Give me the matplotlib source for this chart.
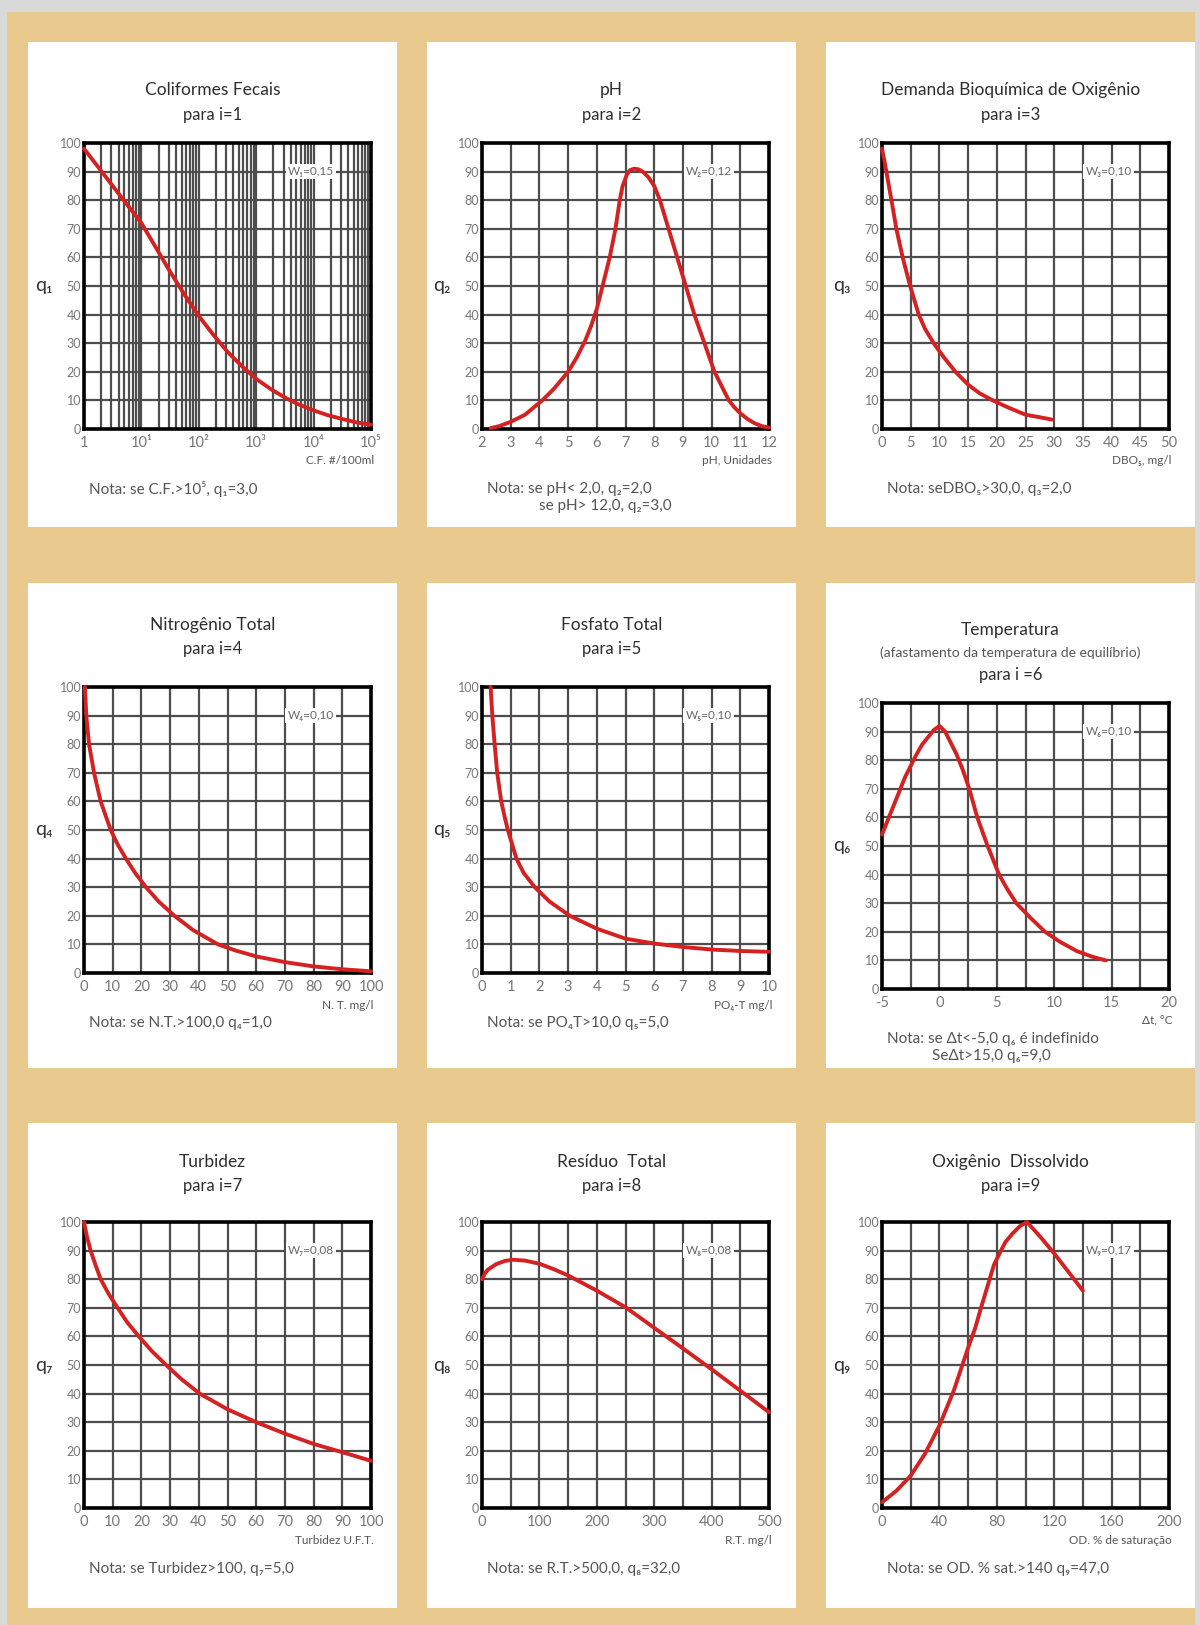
import matplotlib.pyplot as plt
from matplotlib.patches import Rectangle

plt.rcParams['font.family'] = ['Lato', 'DejaVu Sans']

W, H = 1200, 1625

# curves (x, q)
cf_x = [1, 1.78, 3.16, 5.62, 10, 17.8, 31.6, 56.2, 100, 178, 316, 562, 1000, 1780, 3160,
        5620, 1e4, 17800, 31600, 56200, 1e5]
cf_q = [98, 91.5, 85, 78.5, 72, 63.5, 55, 47, 39.5, 33, 27, 22, 17.5, 14, 11,
        8.5, 6.5, 4.8, 3.5, 2.3, 1.5]

ph_x = [2.3, 2.6, 3, 3.5, 4.1, 4.5, 5, 5.3, 5.6, 5.8, 6, 6.2, 6.45, 6.65, 6.8, 6.9, 7.05, 7.15,
        7.3, 7.45, 7.6, 7.8, 8, 8.2, 8.5, 8.8, 9.1, 9.4, 9.75, 10.1, 10.35, 10.6, 10.8, 11,
        11.25, 11.5, 11.75, 12]
ph_q = [0.3, 1, 2.5, 5, 10, 14, 20, 25, 31, 36, 42, 50, 60, 70, 80, 85, 89, 90.5,
        91, 90.8, 90, 88, 85, 80, 70, 60, 50, 40, 30, 20, 15, 10, 7.5, 5.5,
        3.5, 2, 1, 0.5]

dbo_x = [0, 0.4, 0.76, 1.2, 1.65, 2.5, 3.6, 4.9, 6.4, 7.5, 9, 10.8, 12.8, 15, 17, 19.3, 22,
         25, 27.5, 29.6]
dbo_q = [98, 94, 90, 85, 80, 70, 60, 50, 40, 35, 30, 25, 20, 15.5, 12.5, 10, 7.5,
         5, 4.1, 3.3]

nt_x = [0.3, 0.8, 1.75, 3.5, 5.8, 9.3, 11.7, 14.6, 17.8, 21.6, 26, 31.5, 38, 46.7, 53, 60,
        70, 80, 90, 100]
nt_q = [100, 90, 80, 70, 60, 50, 45, 40, 35, 30, 25, 20, 15, 10, 7.8, 5.8,
        3.8, 2.3, 1.3, 0.6]

po4_x = [0.3, 0.36, 0.44, 0.53, 0.67, 0.78, 0.9, 1.05, 1.2, 1.45, 1.84, 2.35, 3.06, 4, 5, 6,
         7, 8, 9, 10]
po4_q = [100, 90, 80, 70, 60, 55, 50, 45, 40, 35, 30, 25, 20, 15.5, 12, 10.3,
         9.1, 8.2, 7.7, 7.4]

temp_x = [-5, -4, -3, -2, -1.5, -1, -0.5, 0, 0.5, 1, 1.5, 2, 2.6, 3.3, 4.2, 5.2, 5.9, 6.7,
          7.9, 9.2, 10.5, 12, 13.3, 14.5]
temp_q = [54, 64, 74, 82, 85.5, 88, 90.5, 92, 90, 86, 82, 77, 70, 60, 50, 40, 35, 30,
          25, 20, 16.5, 13.2, 11.3, 10]

turb_x = [0, 1, 2.3, 4, 5.8, 8.5, 11.7, 15, 19.1, 23.5, 28.6, 34, 40.3, 50, 60, 70, 80, 90,
          100]
turb_q = [100, 95, 90, 85, 80, 75, 70, 65, 60, 55, 50, 45, 40, 34.5, 30, 26, 22.4, 19.5,
          16.5]

rt_x = [0, 5, 10, 25, 40, 54, 75, 100, 125, 150, 200, 250, 300, 350, 400, 450, 500]
rt_q = [80, 82, 83.3, 85.3, 86.4, 86.8, 86.5, 85.4, 83.5, 81.3, 76, 70.2, 63, 55.8, 48.5,
        41, 33.5]

od_x = [0, 10, 20, 30, 40, 50, 60, 65, 69, 74.4, 78, 82.4, 86, 91, 96, 101, 110, 120, 130, 140]
od_q = [2, 6, 11.3, 19, 28.8, 41, 56, 63, 70, 79, 85, 89.5, 93, 96, 98.5, 100, 95, 89, 82.5, 76]

titles = [
    ['Coliformes Fecais', 'para i=1'],
    ['pH', 'para i=2'],
    ['Demanda Bioquímica de Oxigênio', 'para i=3'],
    ['Nitrogênio Total', 'para i=4'],
    ['Fosfato Total', 'para i=5'],
    ['Temperatura', '(afastamento da temperatura de equilíbrio)', 'para i =6'],
    ['Turbidez', 'para i=7'],
    ['Resíduo  Total', 'para i=8'],
    ['Oxigênio  Dissolvido', 'para i=9'],
]
weights = ['W₁=0,15', 'W₂=0,12', 'W₃=0,10', 'W₄=0,10', 'W₅=0,10', 'W₆=0,10',
           'W₇=0,08', 'W₈=0,08', 'W₉=0,17']
q_labels = ['q₁', 'q₂', 'q₃', 'q₄', 'q₅', 'q₆', 'q₇', 'q₈', 'q₉']
unit_labels = ['C.F. #/100ml', 'pH, Unidades', 'DBO₅, mg/l', 'N. T. mg/l', 'PO₄-T mg/l',
               'Δt, °C', 'Turbidez U.F.T.', 'R.T. mg/l', 'OD. % de saturação']
notes = [
    ['Nota: se C.F.>10⁵, q₁=3,0'],
    ['Nota: se pH< 2,0, q₂=2,0', 'se pH> 12,0, q₂=3,0'],
    ['Nota: seDBO₅>30,0, q₃=2,0'],
    ['Nota: se N.T.>100,0 q₄=1,0'],
    ['Nota: se PO₄T>10,0 q₅=5,0'],
    ['Nota: se Δt<-5,0 q₆ é indefinido', 'SeΔt>15,0 q₆=9,0'],
    ['Nota: se Turbidez>100, q₇=5,0'],
    ['Nota: se R.T.>500,0, q₈=32,0'],
    ['Nota: se OD. % sat.>140 q₉=47,0'],
]
curves = [(cf_x, cf_q), (ph_x, ph_q), (dbo_x, dbo_q), (nt_x, nt_q), (po4_x, po4_q),
          (temp_x, temp_q), (turb_x, turb_q), (rt_x, rt_q), (od_x, od_q)]
xlims = [(1, 1e5), (2, 12), (0, 50), (0, 100), (0, 10), (-5, 20), (0, 100), (0, 500), (0, 200)]
grid_steps = [None, 1, 5, 10, 1, 2.5, 10, 50, 20]
label_steps = [None, 1, 5, 10, 1, 5, 10, 100, 40]

RED = '#d42121'
GRID = '#4d4d4d'


def fig_rect(x, y, w, h):
    return [x / W, 1 - (y + h) / H, w / W, h / H]


def ftext(x, y, s, **kw):
    fig.text(x / W, 1 - y / H, s, **kw)


fig = plt.figure(figsize=(12, 16.25), dpi=100, facecolor='#d9d9d9')
fig.patches.append(Rectangle((7 / W, 0), 1188 / W, 1613 / H, transform=fig.transFigure,
                             facecolor='#e9c98d', edgecolor='none', zorder=0))

col_x = [28, 427, 826]
row_y = [42, 583, 1123]
panel_w, panel_h = 369, 485
ax_left = [56, 55, 56]
ax_top = [101, 104, 99]
title_y = [[48, 73], [42, 66], [39, 63]]
note_dy = [60, 50, 61]

for i in range(9):
    r, c = divmod(i, 3)
    px, py = col_x[c], row_y[r]
    fig.patches.append(Rectangle((px / W, 1 - (py + panel_h) / H), panel_w / W, panel_h / H,
                                 transform=fig.transFigure, facecolor='white',
                                 edgecolor='none', zorder=1))
    top = py + ax_top[r] + (16 if i == 5 else 0)
    axl = px + ax_left[c]
    ax = fig.add_axes(fig_rect(axl, top, 287, 286))
    ax.set_zorder(2)

    # titles
    cx = px + panel_w / 2
    if i == 5:
        ftext(cx, py + 47, titles[i][0], ha='center', va='center', fontsize=12.5, color='#2e2e2e')
        ftext(cx, py + 70, titles[i][1], ha='center', va='center', fontsize=10, color='#555555')
        ftext(cx, py + 92, titles[i][2], ha='center', va='center', fontsize=12, color='#2e2e2e')
    else:
        ftext(cx, py + title_y[r][0], titles[i][0], ha='center', va='center', fontsize=12.5,
              color='#2e2e2e')
        ftext(cx, py + title_y[r][1], titles[i][1], ha='center', va='center', fontsize=12,
              color='#2e2e2e')

    x, q = curves[i]
    ax.plot(x, q, color=RED, lw=2.8, solid_capstyle='round', solid_joinstyle='round',
            zorder=5, clip_on=False)
    ax.set_xlim(*xlims[i])
    ax.set_ylim(0, 100)

    if i == 0:
        ax.set_xscale('log')
        ax.set_xticks([1, 10, 100, 1e3, 1e4, 1e5])
        ax.set_xticklabels(['1', '10¹', '10²', '10³', '10⁴', '10⁵'])
        ax.set_xticks([m * 10 ** d for d in range(5) for m in range(2, 10)], minor=True)
        ax.tick_params(axis='x', which='minor', labelbottom=False)
    else:
        lo, hi = xlims[i]
        gs, ls = grid_steps[i], label_steps[i]
        n = int(round((hi - lo) / gs))
        ax.set_xticks([lo + k * gs for k in range(n + 1)], minor=True)
        m = int(round((hi - lo) / ls))
        ticks = [lo + k * ls for k in range(m + 1)]
        ax.set_xticks(ticks)
        ax.set_xticklabels([('%g' % t) for t in ticks])
    ax.set_yticks(range(0, 101, 10))

    ax.grid(True, which='both', color=GRID, lw=1.6)
    ax.set_axisbelow(True)
    for s in ax.spines.values():
        s.set_linewidth(2.6)
        s.set_color('black')
    ax.tick_params(which='both', length=0, colors='#777777', labelsize=10)
    ax.tick_params(axis='x', pad=5, labelsize=10.5)
    ax.tick_params(axis='y', pad=2, labelsize=9)

    ax.text(0.79, 0.9, weights[i], transform=ax.transAxes, ha='center', va='center',
            fontsize=8.5, color='#666666', zorder=4,
            bbox=dict(facecolor='white', edgecolor='none', pad=1.5))

    # q label and unit label
    ftext(axl - 40, top + 143, q_labels[i], ha='center', va='center', fontsize=14,
          color='#333333')
    ftext(axl + 290, top + 286 + 32, unit_labels[i], ha='right', va='center', fontsize=8.5,
          color='#555555')

    # notes
    ny = top + 286 + note_dy[r]
    ftext(axl + 5, ny, notes[i][0], ha='left', va='center', fontsize=11, color='#555555')
    if len(notes[i]) > 1:
        indent = 52 if i == 1 else 45
        ftext(axl + 5 + indent, ny + 17, notes[i][1], ha='left', va='center', fontsize=11,
              color='#555555')

fig.savefig('out.png', dpi=100, facecolor=fig.get_facecolor())
